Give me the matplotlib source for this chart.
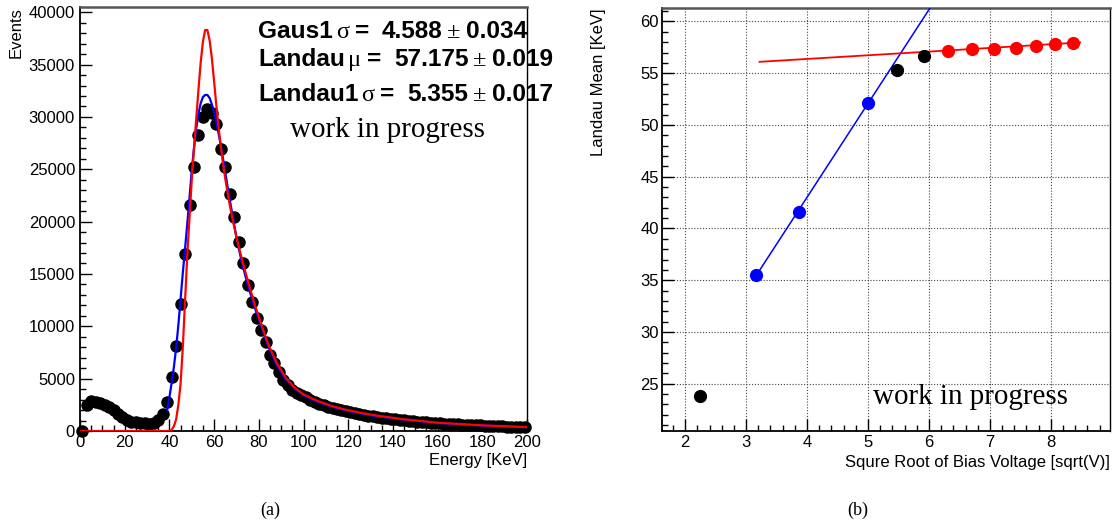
import matplotlib
matplotlib.use("Agg")
import matplotlib.pyplot as plt
import matplotlib.transforms as mtransforms
from matplotlib.ticker import MultipleLocator
from matplotlib.font_manager import FontProperties
import numpy as np

# ---------------- data : panel (a) energy spectrum ----------------
energy_bins = np.arange(1, 200, 2)          # bin centres [KeV], 2 KeV bins
counts = [
    0, 2500, 2850, 2800, 2650, 2500, 2250, 2000, 1650, 1300,
    1050, 900, 820, 760, 720, 700, 760, 1050, 1650, 2800,
    5200, 8150, 12150, 16950, 21550, 25250, 28300, 30000, 30800, 30400,
    29300, 26950, 25200, 22600, 20400, 18050, 16000, 13900, 12300, 10800,
    9600, 8500, 7250, 6450, 5600, 4850, 4350, 3950, 3650, 3400,
    3200, 2950, 2750, 2600, 2450, 2320, 2200, 2080, 1970, 1880,
    1790, 1710, 1630, 1550, 1470, 1400, 1330, 1270, 1210, 1160,
    1110, 1060, 1010, 970, 930, 895, 860, 830, 800, 775,
    745, 715, 690, 665, 640, 615, 595, 575, 555, 535,
    500, 485, 470, 455, 440, 425, 410, 395, 382, 370,
]

# Landau fit (red) sampled from the figure
landau_E = [0, 40, 41, 42, 43, 44, 45, 46, 47, 48, 49, 50, 51, 52, 53, 54, 55,
            56, 57, 58, 59, 60, 61, 62, 63, 64, 65, 66, 67, 68, 70, 72, 74, 76,
            78, 80, 84, 88, 92, 96, 100, 106, 112, 118, 126, 134, 145, 160, 180, 200]
landau_counts = [0, 0, 100, 450, 1100, 2500, 4500, 8000, 12400, 16800, 20400,
                 24000, 27000, 29800, 32600, 35200, 37200, 38300, 38300, 37300,
                 35600, 33400, 31100, 29000, 27200, 25500, 24100, 22800, 21600,
                 20500, 18500, 16800, 15200, 13700, 12200, 10900, 8400, 6500,
                 5100, 4150, 3500, 2900, 2430, 2080, 1720, 1430, 1120, 790, 540, 370]

# Landau (x) Gauss fit (blue) sampled from the figure
langaus_E = [39, 40, 41, 42, 43, 44, 45, 46, 47, 48, 49, 50, 51, 52, 53, 54, 55,
             56, 57, 58, 59, 60, 61, 62, 63, 64, 65, 66, 67, 68, 70, 72, 74, 76,
             78, 80, 84, 88, 92, 96, 100, 106, 112, 118, 126, 134, 145, 160, 180, 200]
langaus_counts = [2000, 3200, 4600, 6100, 7900, 10100, 12600, 15100, 17400,
                  19800, 22300, 24900, 27000, 28900, 30300, 31300, 31900, 32100,
                  32100, 31800, 31200, 30400, 29500, 28400, 27300, 26000, 24700,
                  23400, 22100, 20900, 18500, 16500, 14800, 13300, 11900, 10700,
                  8200, 6300, 4950, 4050, 3420, 2820, 2370, 2020, 1660, 1380,
                  1080, 770, 520, 355]

fit_names = ["Gaus1", "Landau", "Landau1"]
fit_symbols = ["\u03c3", "\u03bc", "\u03c3"]
fit_values = ["4.588", "57.175", "5.355"]
fit_errors = ["0.034", "0.019", "0.017"]

# ---------------- data : panel (b) Landau mean vs sqrt(bias) ----------------
sqrt_bias_black = [2.24, 5.48, 5.92]
mean_black = [23.84, 55.3, 56.7]
sqrt_bias_blue = [3.16, 3.87, 5.00]
mean_blue = [35.48, 41.6, 52.1]
sqrt_bias_red = [6.32, 6.71, 7.07, 7.42, 7.75, 8.06, 8.37]
mean_red = [57.19, 57.35, 57.35, 57.48, 57.6, 57.8, 57.9]
blue_fit_x = [3.16, 6.10]
blue_fit_y = [35.40, 62.05]
red_fit_x = [3.22, 8.48]
red_fit_y = [56.10, 57.97]

WIP = "work in progress"

# ---------------- figure ----------------
W, H = 1117, 525
fig = plt.figure(figsize=(W / 100, H / 100), dpi=100)
SANS = "Liberation Sans"
SERIF = "Liberation Serif"
plt.rcParams["font.family"] = SANS


def px_ax(l, r, t, b):
    return [l / W, (H - b) / H, (r - l) / W, (b - t) / H]


axL = fig.add_axes(px_ax(80, 527, 7, 431))
axR = fig.add_axes(px_ax(662, 1110, 8, 431))


def style_frame(ax):
    for s in ("left", "bottom"):
        ax.spines[s].set_linewidth(1.3)
        ax.spines[s].set_color("black")
    ax.spines["top"].set_color("#555555")
    ax.spines["top"].set_linewidth(1.8)
    ax.spines["right"].set_color("black")
    ax.spines["right"].set_linewidth(1.0)
    ax.tick_params(which="both", direction="in", top=False, right=False,
                   width=1.0, labelsize=12, colors="black")
    ax.tick_params(which="major", length=8.8)
    ax.tick_params(which="minor", length=4.4)


# ---- panel (a)
axL.plot(energy_bins, counts, "o", color="black", markersize=8, zorder=2,
         clip_on=False)
axL.plot(langaus_E, langaus_counts, "-", color="#0000ff", lw=1.6, zorder=3)
axL.plot(landau_E, landau_counts, "-", color="#ff0000", lw=1.6, zorder=4)
axL.set_xlim(0, 200)
axL.set_ylim(0, 40500)
axL.xaxis.set_major_locator(MultipleLocator(20))
axL.xaxis.set_minor_locator(MultipleLocator(5))
axL.yaxis.set_major_locator(MultipleLocator(5000))
axL.yaxis.set_minor_locator(MultipleLocator(1000))
style_frame(axL)
axL.tick_params(axis="y", pad=3.6)
axL.tick_params(axis="x", pad=3.0)
axL.set_xlabel("Energy [KeV]", fontsize=12)
axL.xaxis.label.set(ha="right", va="center")
axL.xaxis.set_label_coords(1.0, (431 - 461) / 424)
axL.set_ylabel("Events", fontsize=12)
axL.yaxis.label.set(rotation_mode="default", ha="center", va="top")
axL.yaxis.set_label_coords((16 - 80) / 447, (431 - 7) / 424)

# ---- panel (b)
axR.grid(True, which="major", linestyle=(0, (1, 1.6)), color="#444444",
         linewidth=0.8)
axR.plot(blue_fit_x, blue_fit_y, "-", color="#0000ff", lw=1.1, zorder=3)
axR.plot(red_fit_x, red_fit_y, "-", color="#ff0000", lw=1.3, zorder=3)
axR.plot(sqrt_bias_black, mean_black, "o", color="black", markersize=8.5, zorder=4)
axR.plot(sqrt_bias_blue, mean_blue, "o", color="#0000ff", markersize=8.5, zorder=4)
axR.plot(sqrt_bias_red, mean_red, "o", color="#ff0000", markersize=8.5, zorder=4)
axR.set_xlim(1.62, 8.97)
axR.set_ylim(20.43, 61.3)
axR.xaxis.set_major_locator(MultipleLocator(1))
axR.xaxis.set_minor_locator(MultipleLocator(0.2))
axR.yaxis.set_major_locator(MultipleLocator(5))
axR.yaxis.set_minor_locator(MultipleLocator(1))
style_frame(axR)
axR.tick_params(axis="y", pad=2.2)
axR.tick_params(axis="x", pad=3.0)
axR.set_xlabel("Squre Root of Bias Voltage [sqrt(V)]", fontsize=12)
axR.xaxis.label.set(ha="right", va="center")
axR.xaxis.set_label_coords(1.0, (431 - 463) / 423)
axR.set_ylabel("Landau Mean [KeV]", fontsize=12)
axR.yaxis.label.set(rotation_mode="default", ha="center", va="top")
axR.yaxis.set_label_coords((598 - 662) / 448, 1.0)

# "work in progress" labels
fig.text(290 / W, 1 - 137 / H, WIP, family=SERIF, fontsize=20.9,
         ha="left", va="baseline")
fig.text(873 / W, 1 - 404 / H, WIP, family=SERIF, fontsize=20.9,
         ha="left", va="baseline")

# captions
fig.text(270 / W, 1 - 510 / H, "(a)", family=SERIF, fontsize=13,
         ha="center", va="center")
fig.text(858 / W, 1 - 510 / H, "(b)", family=SERIF, fontsize=13,
         ha="center", va="center")

# ---- fit-result text (mixed fonts), laid out piece by piece
renderer = fig.canvas.get_renderer()
bold = FontProperties(family=SANS, weight="bold", size=17.6)
sym = FontProperties(family=SERIF, weight="normal", size=17.6)
ident = mtransforms.IdentityTransform()


def rich_line(x0, baseline_from_top, pieces):
    x = x0
    y = H - baseline_from_top
    for s, fp, gap in pieces:
        t = fig.text(x, y, s, fontproperties=fp, transform=ident,
                     ha="left", va="baseline")
        x += t.get_window_extent(renderer).width + gap


baselines = [38, 66, 101]
for name, symb, val, err, bl in zip(fit_names, fit_symbols, fit_values,
                                    fit_errors, baselines):
    rich_line(258, bl, [(name, bold, 3), (symb, sym, 6), ("=", bold, 13),
                        (val, bold, 4), ("\u00b1", sym, 6), (err, bold, 0)])

fig.savefig("out.png", dpi=100)
